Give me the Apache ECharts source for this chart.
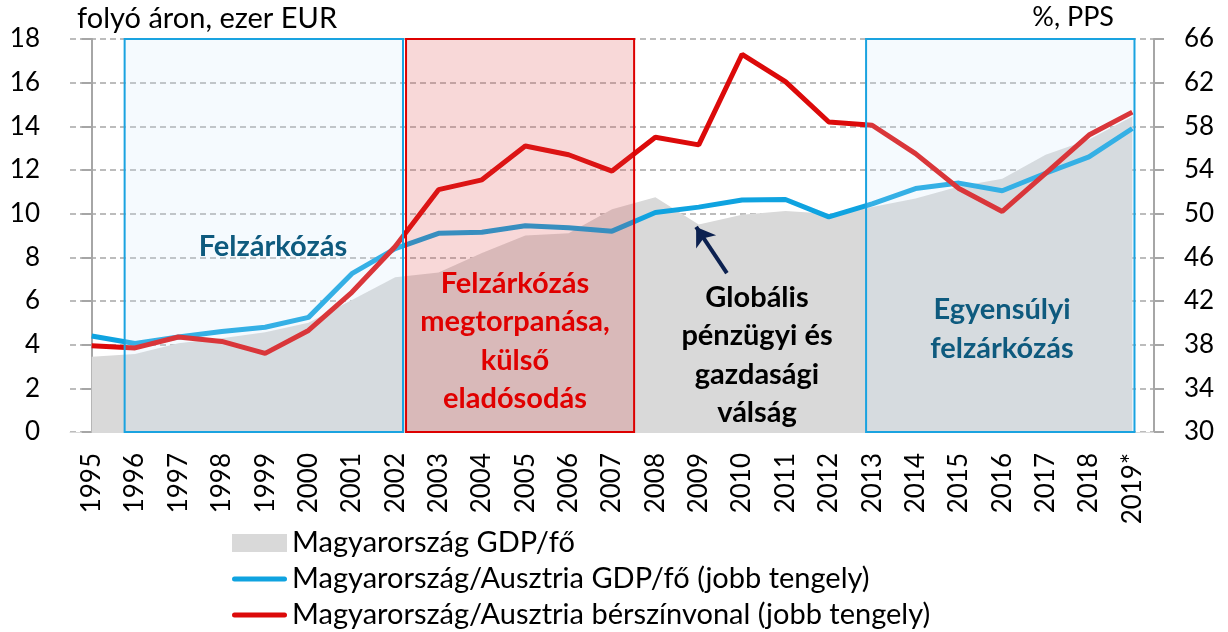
<!DOCTYPE html>
<html>
<head>
<meta charset="utf-8">
<script src="https://cdn.jsdelivr.net/npm/echarts@6/dist/echarts.min.js"></script>
<style>
  html, body { margin: 0; padding: 0; background: #fff; }
  #chart { width: 1228px; height: 632px; }
</style>
</head>
<body>
<div id="chart"></div>
<script>
const years = ['1995', '1996', '1997', '1998', '1999', '2000', '2001', '2002', '2003', '2004',
  '2005', '2006', '2007', '2008', '2009', '2010', '2011', '2012', '2013', '2014',
  '2015', '2016', '2017', '2018', '2019*'];
// folyó áron, ezer EUR (bal tengely)
const gdpPerCapita = [3.45, 3.57, 4.06, 4.29, 4.57, 5.0, 6.05, 7.09, 7.3, 8.2,
  9.0, 9.1, 10.2, 10.75, 9.5, 9.95, 10.12, 10.0, 10.3, 10.7,
  11.25, 11.6, 12.7, 13.4, 14.45];
// %, PPS (jobb tengely)
const gdpRatio = [38.8, 38.1, 38.7, 39.2, 39.6, 40.5, 44.5, 46.8, 48.2, 48.3,
  48.9, 48.7, 48.4, 50.1, 50.6, 51.25, 51.3, 49.7, 50.9, 52.3,
  52.8, 52.1, 53.7, 55.2, 57.8];
const wageRatio = [37.9, 37.7, 38.7, 38.3, 37.2, 39.3, 42.8, 47.0, 52.2, 53.1,
  56.2, 55.4, 53.9, 57.0, 56.3, 64.6, 62.1, 58.4, 58.1, 55.5,
  52.3, 50.2, 53.7, 57.2, 59.3];
const leftTicks = { min: 0, max: 18, interval: 2 };
const rightTicks = { min: 30, max: 66, interval: 4 };

const seriesNames = ['Magyarország GDP/fő', 'Magyarország/Ausztria GDP/fő (jobb tengely)', 'Magyarország/Ausztria bérszínvonal (jobb tengely)'];

const font = 'Lato';
const blue = '#0fa3e0';
const red = '#dc0a0a';
const lineIcon = 'path://M2.5,0 H52.5 A2.5,2.5 0 0 1 52.5,5 H2.5 A2.5,2.5 0 0 1 2.5,0 Z';
const chart = echarts.init(document.getElementById('chart'));

chart.setOption({
  animation: false,
  grid: { left: 70, right: 74, top: 39, bottom: 200 },
  xAxis: [{
    type: 'category',
    data: years,
    boundaryGap: true,
    axisLine: { lineStyle: { color: '#d9d9d9', width: 1 } },
    axisTick: { show: false },
    axisLabel: { rotate: 90, margin: 21, fontFamily: font, fontSize: 26, color: '#000' }
  }, {
    // segédtengely a megjegyzésekhez
    type: 'value', min: -0.5, max: 24.5, show: false
  }],
  yAxis: [{
    type: 'value',
    min: leftTicks.min, max: leftTicks.max, interval: leftTicks.interval,
    axisLine: { show: true, lineStyle: { color: '#a6a6a6', width: 2 } },
    axisTick: { show: true, length: 10, lineStyle: { color: '#a6a6a6', width: 2 } },
    axisLabel: { margin: 30, fontFamily: font, fontSize: 26, color: '#000' },
    splitLine: { lineStyle: { color: '#a6a6a6', width: 1.5, type: [6, 4] } }
  }, {
    type: 'value',
    min: rightTicks.min, max: rightTicks.max, interval: rightTicks.interval,
    position: 'right',
    axisLine: { show: true, lineStyle: { color: '#a6a6a6', width: 2 } },
    axisTick: { show: true, length: 10, lineStyle: { color: '#a6a6a6', width: 2 } },
    axisLabel: { margin: 30, fontFamily: font, fontSize: 26, color: '#000' },
    splitLine: { show: false }
  }],
  legend: {
    orient: 'vertical',
    left: 232, top: 527,
    padding: 0,
    itemWidth: 55, itemHeight: 18, itemGap: 4,
    textStyle: { fontFamily: font, fontSize: 29, color: '#000', lineHeight: 32 },
    data: [
      { name: seriesNames[0], icon: 'rect', itemStyle: { color: '#d9d9d9' } },
      { name: seriesNames[1], icon: lineIcon, itemStyle: { color: blue, borderWidth: 0 } },
      { name: seriesNames[2], icon: lineIcon, itemStyle: { color: red, borderWidth: 0 } }
    ]
  },
  series: [{
    name: seriesNames[0],
    type: 'line',
    yAxisIndex: 0,
    data: gdpPerCapita,
    symbol: 'none',
    lineStyle: { width: 0 },
    itemStyle: { color: '#d9d9d9' },
    areaStyle: { color: '#d9d9d9', opacity: 1 },
    z: 1
  }, {
    name: seriesNames[1],
    type: 'line',
    yAxisIndex: 1,
    data: gdpRatio,
    symbol: 'none',
    lineStyle: { color: blue, width: 5 },
    itemStyle: { color: blue },
    z: 3
  }, {
    name: seriesNames[2],
    type: 'line',
    yAxisIndex: 1,
    data: wageRatio,
    symbol: 'none',
    lineStyle: { color: red, width: 5 },
    itemStyle: { color: red },
    z: 4
  }, {
    name: 'annotations',
    type: 'line',
    xAxisIndex: 1,
    yAxisIndex: 0,
    data: [],
    z: 10,
    markArea: {
      silent: true,
      z: 10,
      data: [
        [{ coord: [0.76, 18], itemStyle: { color: 'rgba(205,230,250,0.2)', borderColor: '#1aa3e0', borderWidth: 2 } }, { coord: [7.18, 0] }],
        [{ coord: [7.25, 18], itemStyle: { color: 'rgba(220,60,60,0.2)', borderColor: '#dd0000', borderWidth: 2 } }, { coord: [12.51, 0] }],
        [{ coord: [17.86, 18], itemStyle: { color: 'rgba(205,230,250,0.2)', borderColor: '#1aa3e0', borderWidth: 2 } }, { coord: [24.05, 0] }]
      ]
    },
    markLine: {
      silent: true,
      symbol: ['none', 'arrow'],
      symbolSize: 18,
      label: { show: false },
      lineStyle: { color: '#0c2150', width: 4, type: 'solid' },
      data: [[{ coord: [14.65, 7.28] }, { coord: [13.94, 9.39] }]]
    }
  }],
  graphic: [
    { type: 'text', left: 77, top: 4, z: 100, style: { text: 'folyó áron, ezer EUR', font: '29px Lato', fill: '#000' } },
    { type: 'text', right: 114, top: 4, z: 100, style: { text: '%, PPS', font: '27px Lato', fill: '#000' } },
    { type: 'text', x: 273, y: 247, z: 100, style: { text: 'Felzárkózás', font: 'bold 29px Lato', fill: '#0e5a7e', align: 'center', verticalAlign: 'middle' } },
    { type: 'text', x: 515, y: 341, z: 100, style: { text: 'Felzárkózás\nmegtorpanása,\nkülső\neladósodás', font: 'bold 29px Lato', lineHeight: 38.5, fill: '#e00000', align: 'center', verticalAlign: 'middle' } },
    { type: 'text', x: 757, y: 355, z: 100, style: { text: 'Globális\npénzügyi és\ngazdasági\nválság', font: 'bold 29px Lato', lineHeight: 38.5, fill: '#000', align: 'center', verticalAlign: 'middle' } },
    { type: 'text', x: 1002, y: 329, z: 100, style: { text: 'Egyensúlyi\nfelzárkózás', font: 'bold 29px Lato', lineHeight: 38.5, fill: '#0e5a7e', align: 'center', verticalAlign: 'middle' } }
  ]
});
</script>
</body>
</html>
